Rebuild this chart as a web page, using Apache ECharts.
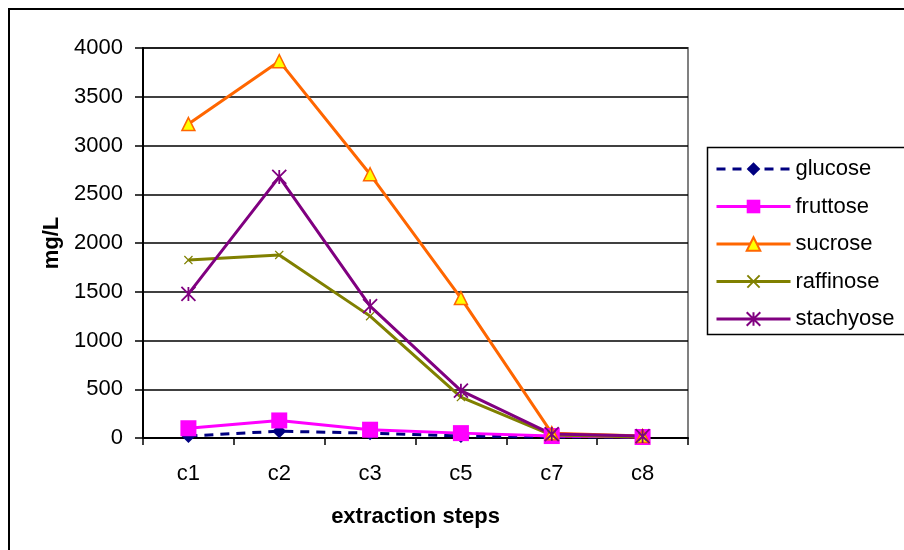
<!DOCTYPE html>
<html>
<head>
<meta charset="utf-8">
<script src="https://cdn.jsdelivr.net/npm/echarts@6/dist/echarts.min.js"></script>
<style>
html,body{margin:0;padding:0;background:#fff;}
#chart{width:904px;height:550px;}
</style>
</head>
<body>
<div id="chart"></div>
<script>
var categories = ['c1', 'c2', 'c3', 'c5', 'c7', 'c8'];
var yTicks = [0, 500, 1000, 1500, 2000, 2500, 3000, 3500, 4000];
var glucose = [20, 70, 50, 20, 10, 10];
var fruttose = [100, 180, 85, 50, 20, 10];
var sucrose = [3220, 3865, 2705, 1435, 50, 20];
var raffinose = [1825, 1878, 1250, 420, 30, 10];
var stachyose = [1478, 2678, 1352, 485, 40, 20];

var FONT = '"Liberation Sans", Arial, sans-serif';
var X_PATH = 'path://M0,1 L1,0 L5,4 L9,0 L10,1 L6,5 L10,9 L9,10 L5,6 L1,10 L0,9 L4,5 Z';
var STAR_PATH = 'path://M0,0 L10,10 M10,0 L0,10 M5,0 L5,10';

function mk(name, data, color, symbol, size, extra) {
  var s = {
    name: name,
    type: 'line',
    data: data,
    symbol: symbol,
    symbolSize: size,
    showAllSymbol: true,
    z: 3,
    lineStyle: { color: color, width: 3 },
    itemStyle: { color: color },
    emphasis: { disabled: true }
  };
  if (extra) extra(s);
  return s;
}

var series = [
  mk('glucose', glucose, '#000080', 'diamond', 14, function (s) { s.lineStyle.type = [9, 7]; }),
  mk('fruttose', fruttose, '#FF00FF', 'rect', 16),
  mk('sucrose', sucrose, '#FF6600', 'triangle', 13, function (s) {
    s.itemStyle = { color: '#FFFF00', borderColor: '#FF6600', borderWidth: 1.5 };
  }),
  mk('raffinose', raffinose, '#808000', X_PATH, 9),
  mk('stachyose', stachyose, '#800080', STAR_PATH, 14, function (s) {
    s.itemStyle = { color: '#800080', borderColor: '#800080', borderWidth: 1.8 };
  })
];

var chart = echarts.init(document.getElementById('chart'), null, { renderer: 'canvas' });
chart.setOption({
  animation: false,
  backgroundColor: '#ffffff',
  textStyle: { fontFamily: FONT },
  grid: {
    left: 143, right: 216, top: 48, bottom: 112,
    show: true, borderColor: '#808080', borderWidth: 2, backgroundColor: 'transparent'
  },
  xAxis: {
    type: 'category',
    data: categories,
    boundaryGap: true,
    name: 'extraction steps',
    nameLocation: 'middle',
    nameGap: 68,
    nameTextStyle: { fontFamily: FONT, fontSize: 22, fontWeight: 'bold', color: '#000' },
    axisLine: { lineStyle: { color: '#000', width: 2 } },
    axisTick: { show: true, length: 7, lineStyle: { color: '#000', width: 1.5 }, alignWithLabel: false },
    axisLabel: { fontFamily: FONT, fontSize: 22, color: '#000', margin: 25 },
    splitLine: { show: false }
  },
  yAxis: {
    type: 'value',
    min: yTicks[0],
    max: yTicks[yTicks.length - 1],
    interval: yTicks[1] - yTicks[0],
    name: 'mg/L',
    nameLocation: 'middle',
    nameRotate: 90,
    nameGap: 80,
    nameTextStyle: { fontFamily: FONT, fontSize: 22, fontWeight: 'bold', color: '#000' },
    axisLine: { show: true, lineStyle: { color: '#000', width: 2 } },
    axisTick: { show: true, length: 8, lineStyle: { color: '#000', width: 1.5 } },
    axisLabel: { fontFamily: FONT, fontSize: 22, color: '#000', margin: 20,
      formatter: function (v) { return String(v); } },
    splitLine: { show: true, lineStyle: { color: '#000', width: 1.5 } }
  },
  legend: {
    orient: 'vertical',
    left: 715,
    top: 156,
    padding: 0,
    itemWidth: 74,
    itemHeight: 17,
    itemGap: 11.5,
    lineStyle: { width: 3 },
    textStyle: { fontFamily: FONT, fontSize: 22, color: '#000', lineHeight: 26 },
    data: ['glucose', 'fruttose', 'sucrose', 'raffinose', 'stachyose']
  },
  graphic: [
    { type: 'rect', silent: true, z: 100,
      shape: { x: 9, y: 9, width: 1000, height: 545 },
      style: { fill: 'none', stroke: '#000', lineWidth: 2 } },
    { type: 'rect', silent: true, z: 100,
      shape: { x: 707.5, y: 147.5, width: 260, height: 187 },
      style: { fill: 'none', stroke: '#000', lineWidth: 1.5 } }
  ],
  series: series
});
</script>
</body>
</html>
